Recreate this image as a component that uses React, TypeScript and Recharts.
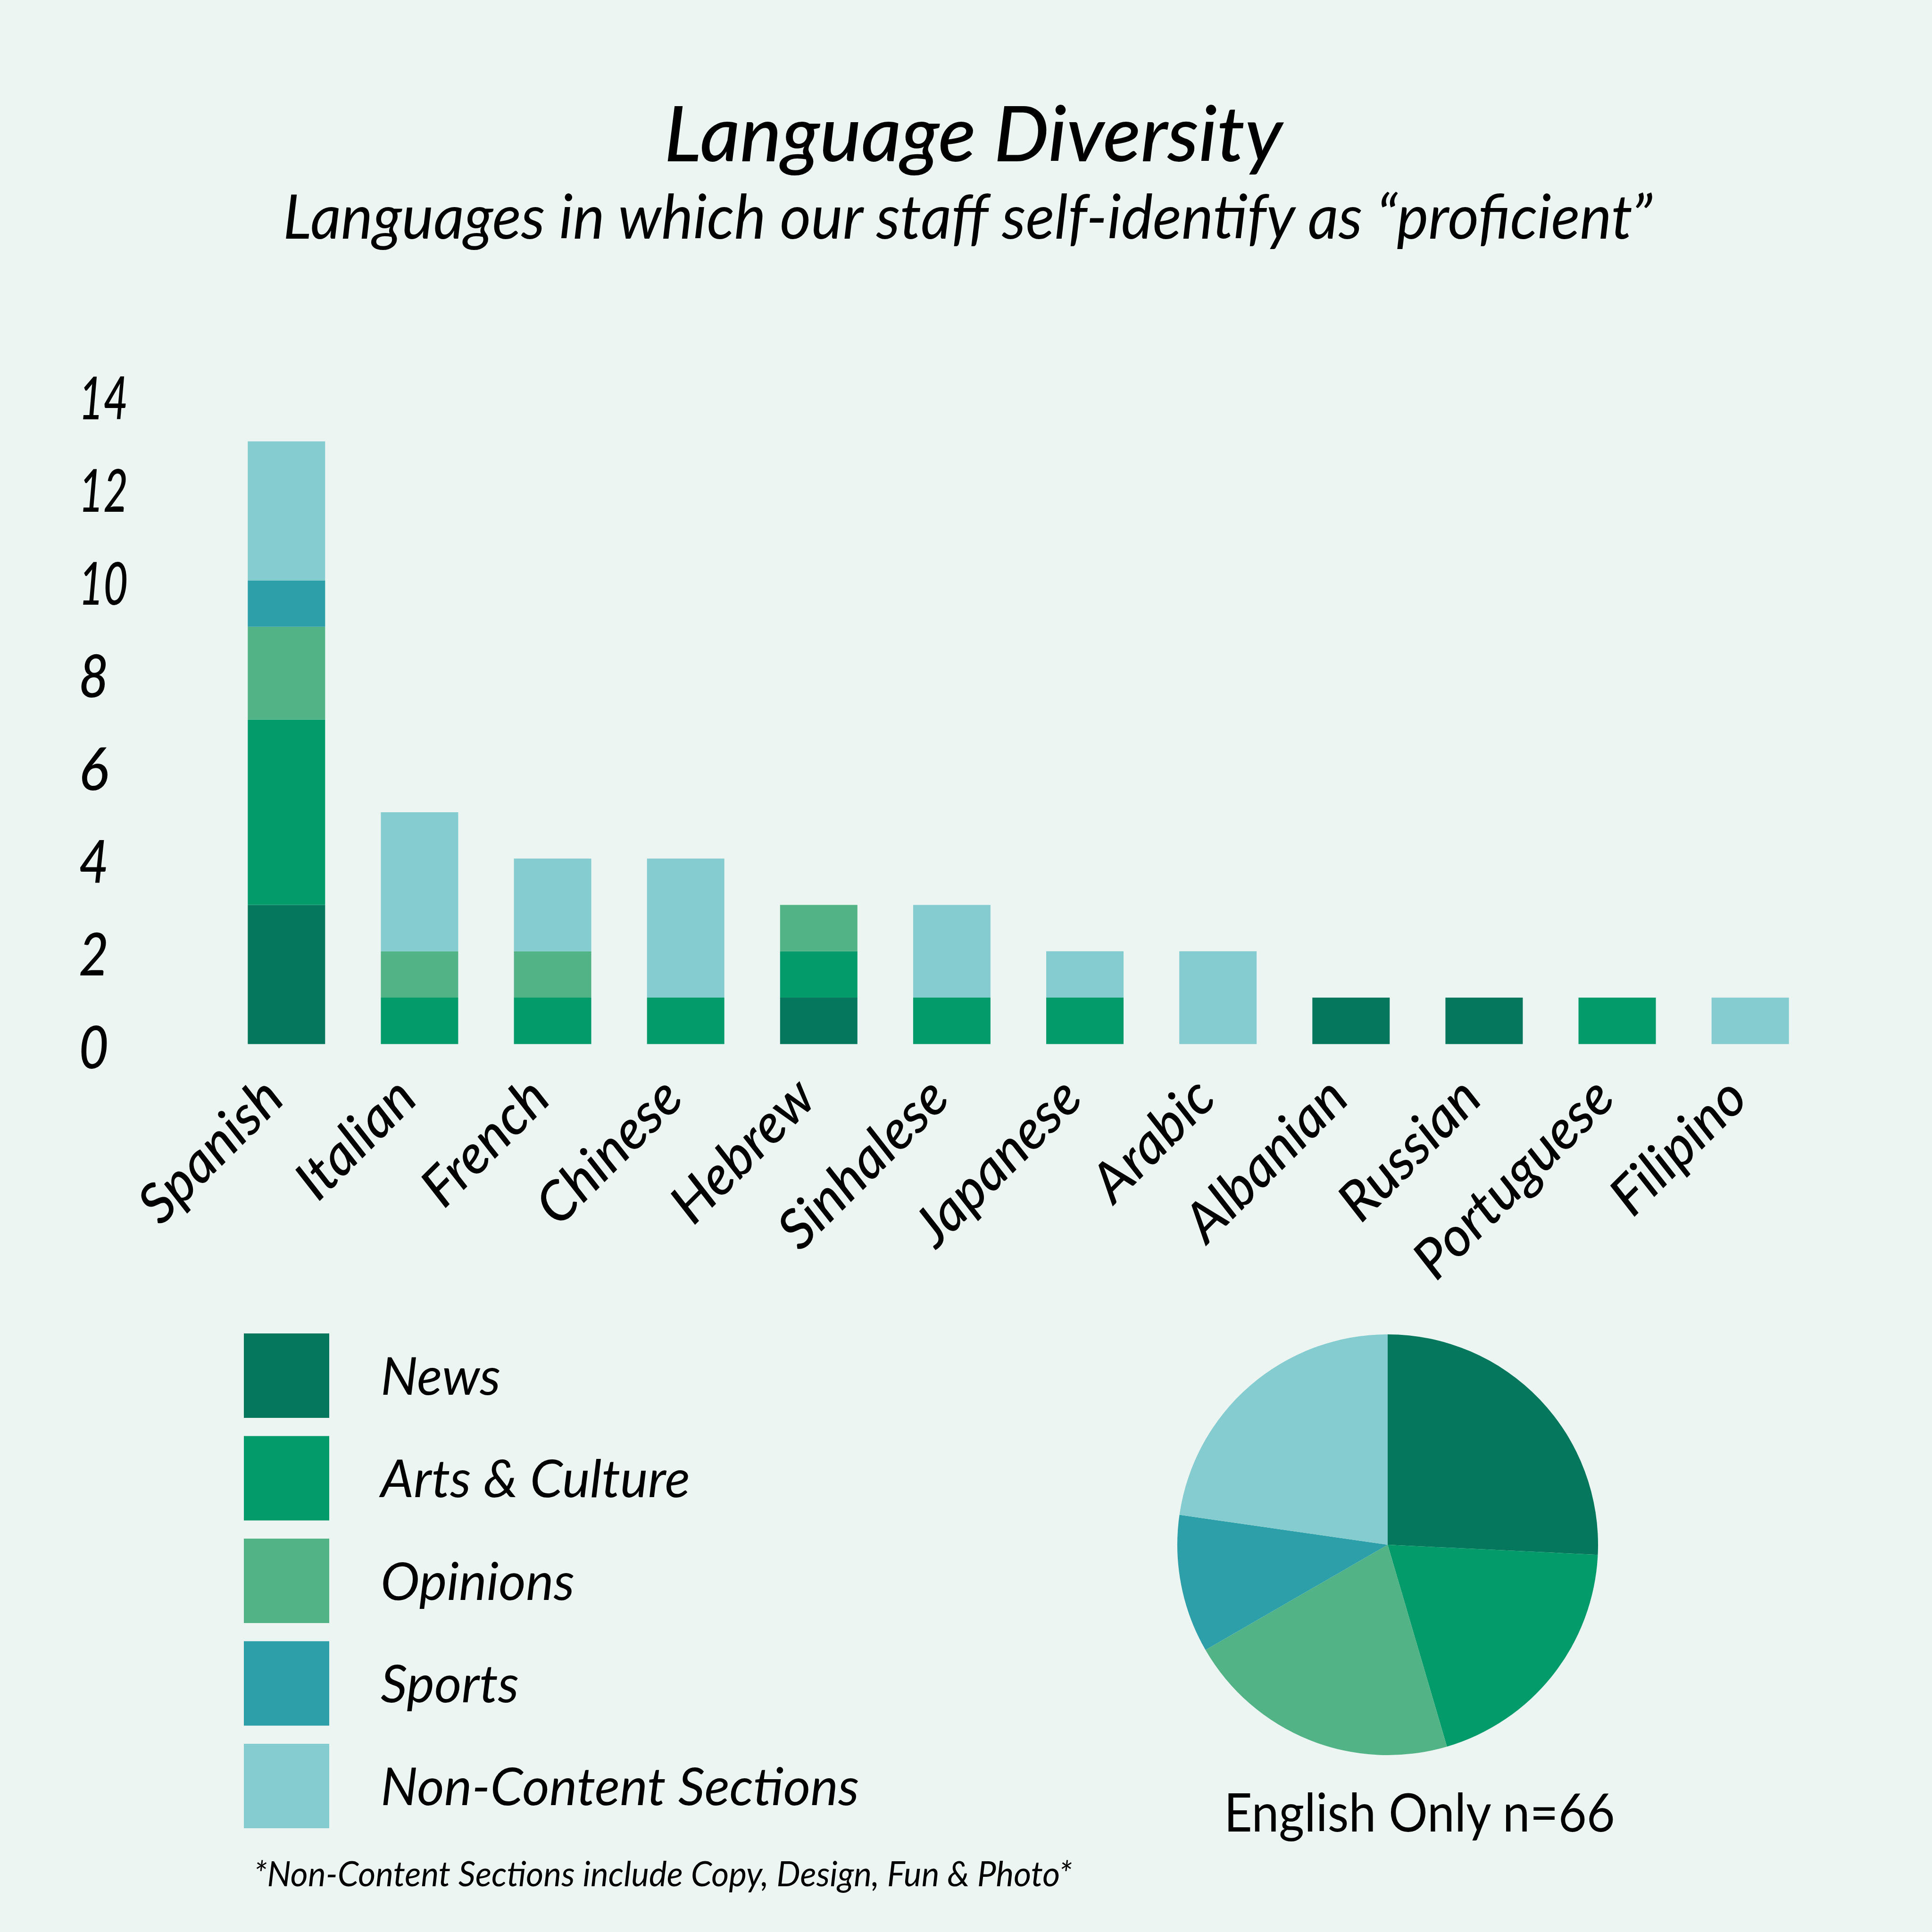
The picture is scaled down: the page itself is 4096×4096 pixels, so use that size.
import React from 'react';
import { BarChart, Bar, XAxis, YAxis, Legend, PieChart, Pie, Cell } from 'recharts';

const languages = ['Spanish', 'Italian', 'French', 'Chinese', 'Hebrew', 'Sinhalese', 'Japanese', 'Arabic', 'Albanian', 'Russian', 'Portuguese', 'Filipino'];
const newsCounts = [3, 0, 0, 0, 1, 0, 0, 0, 1, 1, 0, 0];
const artsCounts = [4, 1, 1, 1, 1, 1, 1, 0, 0, 0, 1, 0];
const opinionsCounts = [2, 1, 1, 0, 1, 0, 0, 0, 0, 0, 0, 0];
const sportsCounts = [1, 0, 0, 0, 0, 0, 0, 0, 0, 0, 0, 0];
const nonContentCounts = [3, 3, 2, 3, 0, 2, 1, 2, 0, 0, 0, 1];

const sections = ['News', 'Arts & Culture', 'Opinions', 'Sports', 'Non-Content Sections'];
const sectionKeys = ['news', 'arts', 'opinions', 'sports', 'nonContent'];
const sectionColors = ['#04775C', '#049B6B', '#52B386', '#2C9FA8', '#84CCCF'];

const yTicks = [0, 2, 4, 6, 8, 10, 12, 14];

const englishOnlyCounts = [17, 13, 14, 7, 15];
const englishOnlyLabel = 'English Only n=66';

const titleText = 'Language Diversity';
const subtitleText = 'Languages in which our staff self-identify as \u201Cproficient\u201D';
const footnoteText = '*Non-Content Sections include Copy, Design, Fun & Photo*';

const seriesByKey: Record<string, number[]> = {
  news: newsCounts,
  arts: artsCounts,
  opinions: opinionsCounts,
  sports: sportsCounts,
  nonContent: nonContentCounts,
};

const barData = languages.map((language, i) => {
  const row: Record<string, string | number> = { language };
  sectionKeys.forEach((k) => {
    row[k] = seriesByKey[k][i];
  });
  return row;
});

const pieData = sections.map((name, i) => ({ name, value: englishOnlyCounts[i] }));

const FONT = 'Lato, "Open Sans", "DejaVu Sans", sans-serif';
const W = 4096;
const H = 4096;

const XTick = (props: any) => {
  const { x, y, payload } = props;
  return (
    <g transform={`translate(${x},${y + 121})`}>
      <text
        transform="rotate(-45)"
        textAnchor="end"
        fontFamily={FONT}
        fontStyle="italic"
        fontWeight={500}
        fontSize={116}
        fill="#000"
      >
        {payload.value}
      </text>
    </g>
  );
};

const YTick = (props: any) => {
  const { x, y, payload } = props;
  const s = String(payload.value);
  return (
    <text
      x={x - 299}
      y={y + 6}
      dy="0.36em"
      textAnchor="start"
      fontFamily={FONT}
      fontStyle="italic"
      fontWeight={500}
      fontSize={126}
      textLength={s.length > 1 ? 104 : 63}
      lengthAdjust="spacingAndGlyphs"
      fill="#000"
    >
      {s}
    </text>
  );
};

const LegendContent = (props: any) => {
  const payload = [...(props.payload || [])].sort(
    (a: any, b: any) => sections.indexOf(a.value) - sections.indexOf(b.value)
  );
  const pitch = 217.5;
  const box = 179;
  return (
    <svg width={1700} height={pitch * payload.length} style={{ overflow: 'visible' }}>
      {payload.map((item: any, i: number) => (
        <g key={item.value} transform={`translate(0,${i * pitch})`}>
          <rect x={0} y={0} width={181} height={box} fill={item.color} />
          <text
            x={290}
            y={box / 2 + 40}
            fontFamily={FONT}
            fontStyle="italic"
            fontSize={111}
            fill="#000"
          >
            {item.value}
          </text>
        </g>
      ))}
    </svg>
  );
};

export default function App() {
  return (
    <div
      style={{
        position: 'absolute',
        left: 0,
        top: 0,
        width: W,
        height: H,
        background: '#EDF5F3',
        overflow: 'hidden',
      }}
    >
      <svg
        width={W}
        height={H}
        style={{ position: 'absolute', left: 0, top: 0 }}
      >
        <text
          x={1408}
          y={342}
          fontFamily={FONT}
          fontStyle="italic"
          fontWeight={500}
          fontSize={162}
          textLength={1311}
          lengthAdjust="spacingAndGlyphs"
          fill="#000"
        >
          {titleText}
        </text>
        <text
          x={600}
          y={506}
          fontFamily={FONT}
          fontStyle="italic"
          fontSize={130}
          textLength={2903}
          lengthAdjust="spacingAndGlyphs"
          fill="#000"
        >
          {subtitleText}
        </text>
        <text
          x={538}
          y={3999}
          fontFamily={FONT}
          fontStyle="italic"
          fontSize={74}
          textLength={1735}
          lengthAdjust="spacingAndGlyphs"
          fill="#000"
        >
          {footnoteText}
        </text>
        <text
          x={2595}
          y={3883}
          fontFamily={FONT}
          fontSize={112}
          textLength={829}
          lengthAdjust="spacingAndGlyphs"
          fill="#000"
        >
          {englishOnlyLabel}
        </text>
      </svg>

      <div style={{ position: 'absolute', left: 0, top: 0 }}>
        <BarChart
          width={W}
          height={H}
          data={barData}
          margin={{ top: 837.4, right: 244.2, bottom: 1582.6, left: 166.3 }}
        >
          <XAxis
            dataKey="language"
            interval={0}
            axisLine={false}
            tickLine={false}
            tickSize={0}
            tickMargin={0}
            height={300}
            tick={<XTick />}
          />
          <YAxis
            type="number"
            domain={[0, 14]}
            ticks={yTicks}
            interval={0}
            axisLine={false}
            tickLine={false}
            tickSize={0}
            tickMargin={0}
            width={300}
            tick={<YTick />}
          />
          <Legend
            layout="vertical"
            align="center"
            verticalAlign="middle"
            content={<LegendContent />}
            wrapperStyle={{ position: 'absolute', left: 517, top: 2827, width: 1700, height: 1100 }}
          />
          {sectionKeys.map((k, i) => (
            <Bar
              key={k}
              dataKey={k}
              name={sections[i]}
              stackId="langs"
              fill={sectionColors[i]}
              barSize={164}
              isAnimationActive={false}
            />
          ))}
        </BarChart>
      </div>

      <div style={{ position: 'absolute', left: 2441.5, top: 2774.5 }}>
        <PieChart width={1000} height={1000}>
          <Pie
            data={pieData}
            dataKey="value"
            nameKey="name"
            cx="50%"
            cy="50%"
            innerRadius={0}
            outerRadius={446}
            startAngle={90}
            endAngle={-270}
            stroke="none"
            isAnimationActive={false}
          >
            {pieData.map((d, i) => (
              <Cell key={d.name} fill={sectionColors[i]} />
            ))}
          </Pie>
        </PieChart>
      </div>
    </div>
  );
}
